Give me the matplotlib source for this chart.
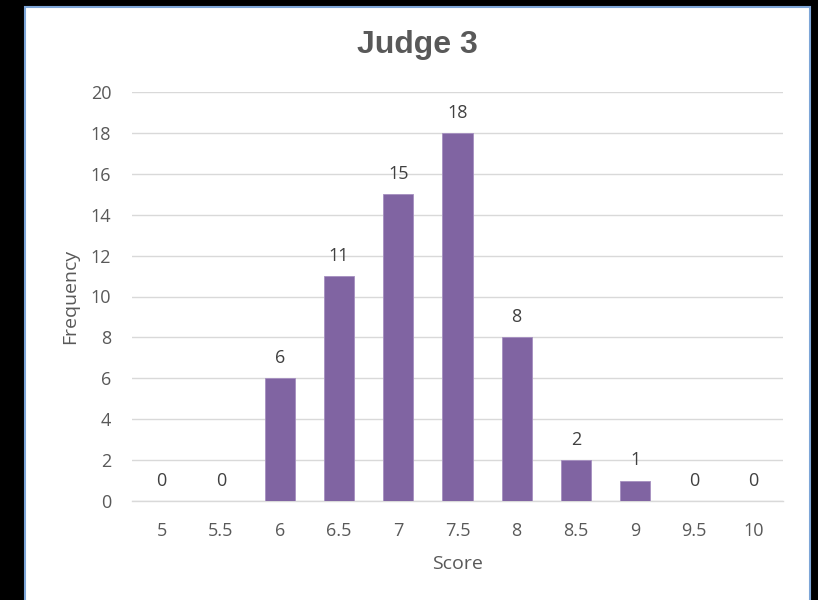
import matplotlib
matplotlib.use("Agg")
import matplotlib.pyplot as plt
from matplotlib.patches import Rectangle

scores = ["5", "5.5", "6", "6.5", "7", "7.5", "8", "8.5", "9", "9.5", "10"]
freq = [0, 0, 6, 11, 15, 18, 8, 2, 1, 0, 0]
yticks = [0, 2, 4, 6, 8, 10, 12, 14, 16, 18, 20]

plt.rcParams['font.family'] = ['Open Sans', 'DejaVu Sans']
gray = "#595959"

fig = plt.figure(figsize=(8.18, 6), dpi=100)
fig.patch.set_facecolor("black")
fig.patches.append(Rectangle((25/818, -0.01), (810-25)/818, 1-7/600+0.01,
                             transform=fig.transFigure, facecolor="white",
                             edgecolor="#7ea6d8", linewidth=1.5, zorder=-5))

ax = fig.add_axes([132/818, 1-501/600, (783-132)/818, (501-92)/600])
ax.set_facecolor("none")
ax.set_zorder(2)
x = list(range(len(scores)))
bars = ax.bar(x, freq, width=0.51, color="#8064A2", edgecolor="#a58fc0", linewidth=0.6, zorder=3)
for xi, v in zip(x, freq):
    ax.annotate(str(v), (xi, v), xytext=(0, 8), textcoords="offset points",
                ha="center", va="bottom", fontsize=13, color="#404040")

ax.set_xlim(-0.5, 10.5)
ax.set_ylim(0, 20)
ax.set_yticks(yticks)
ax.set_xticks(x)
ax.set_xticklabels(scores)
ax.tick_params(axis="both", length=0, labelsize=13, labelcolor=gray)
ax.tick_params(axis="x", pad=15)
ax.tick_params(axis="y", pad=15)
ax.grid(axis="y", color="#d9d9d9", linewidth=1, zorder=0)
for s in ["top", "right", "left"]:
    ax.spines[s].set_visible(False)
ax.spines["bottom"].set_color("#d9d9d9")
ax.spines["bottom"].set_linewidth(1)

ax.set_xlabel("Score", fontsize=14, color=gray, labelpad=11)
ax.set_ylabel("Frequency", fontsize=14, color=gray, labelpad=8)
fig.text(417/818, 1-45/600, "Judge 3", ha="center", va="center",
         fontsize=23, fontweight="bold", color=gray, family=["Liberation Sans", "DejaVu Sans"],
         zorder=3)

fig.savefig("out.png", dpi=100, facecolor=fig.get_facecolor())
